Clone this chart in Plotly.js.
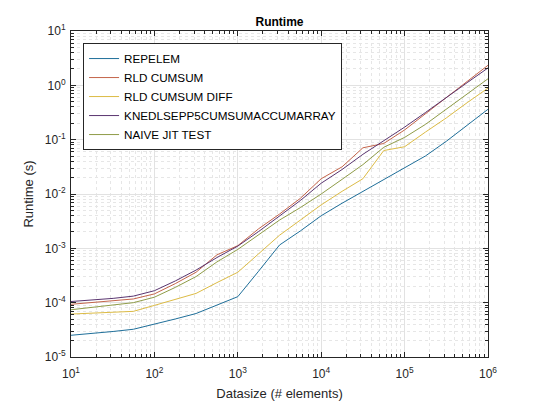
<!DOCTYPE html>
<html>
<head>
<meta charset="utf-8">
<script src="https://cdn.plot.ly/plotly-3.0.1.min.js"></script>
<style>
  body { margin: 0; background: #fff; }
  #myDiv { width: 540px; height: 405px; }
</style>
</head>
<body>
<div id="myDiv"></div>
<script>
// datasize, quarter-decade steps from 10 to 1e6
var datasize = [10, 18, 32, 56, 100, 178, 316, 562, 1000, 1778, 3162, 5623,
  10000, 17783, 31623, 56234, 100000, 177828, 316228, 562341, 1000000];

// runtimes (s)
var repelem = [2.51e-5, 2.69e-5, 2.95e-5, 3.24e-5, 3.98e-5, 5.01e-5, 6.31e-5, 8.91e-5,
  1.29e-4, 3.80e-4, 1.15e-3, 2.09e-3, 3.98e-3, 6.76e-3, 1.12e-2, 1.86e-2,
  3.02e-2, 5.01e-2, 9.33e-2, 0.186, 0.363];

var rldCumsum = [9.33e-5, 1.00e-4, 1.07e-4, 1.17e-4, 1.45e-4, 2.24e-4, 3.63e-4, 7.59e-4,
  1.12e-3, 2.29e-3, 4.27e-3, 8.32e-3, 1.91e-2, 3.16e-2, 7.08e-2, 8.51e-2,
  0.151, 0.302, 0.603, 1.20, 2.34];

var rldCumsumDiff = [6.17e-5, 6.46e-5, 6.76e-5, 6.92e-5, 8.91e-5, 1.15e-4, 1.48e-4, 2.34e-4,
  3.63e-4, 7.94e-4, 1.74e-3, 3.31e-3, 6.31e-3, 1.12e-2, 1.91e-2, 6.31e-2,
  7.41e-2, 0.138, 0.251, 0.479, 0.891];

var knedlsepp = [1.05e-4, 1.12e-4, 1.20e-4, 1.32e-4, 1.66e-4, 2.51e-4, 3.98e-4, 6.76e-4,
  1.10e-3, 2.04e-3, 3.89e-3, 7.59e-3, 1.58e-2, 2.82e-2, 5.37e-2, 9.55e-2,
  0.170, 0.316, 0.603, 1.12, 2.09];

var naiveJit = [7.41e-5, 8.13e-5, 8.91e-5, 1.00e-4, 1.26e-4, 1.91e-4, 3.02e-4, 5.62e-4,
  9.55e-4, 1.78e-3, 3.31e-3, 5.62e-3, 1.00e-2, 1.86e-2, 3.47e-2, 7.24e-2,
  0.110, 0.191, 0.363, 0.692, 1.32];

var names = ['REPELEM', 'RLD CUMSUM', 'RLD CUMSUM DIFF', 'KNEDLSEPP5CUMSUMACCUMARRAY', 'NAIVE JIT TEST'];
var series = [repelem, rldCumsum, rldCumsumDiff, knedlsepp, naiveJit];
var colors = ['#1f6f9a', '#c4644a', '#dcbb45', '#5a3570', '#8f9c48'];

var xTickVals = [10, 100, 1000, 10000, 100000, 1000000];
var xTickText = ['10<sup>1</sup>', '10<sup>2</sup>', '10<sup>3</sup>', '10<sup>4</sup>', '10<sup>5</sup>', '10<sup>6</sup>'];
var yTickVals = [1e-5, 1e-4, 1e-3, 1e-2, 1e-1, 1, 10];
var yTickText = ['10<sup>-5</sup>', '10<sup>-4</sup>', '10<sup>-3</sup>', '10<sup>-2</sup>', '10<sup>-1</sup>', '10<sup>0</sup>', '10<sup>1</sup>'];

var data = [];
for (var i = 0; i < series.length; i++) {
  data.push({
    x: datasize,
    y: series[i],
    mode: 'lines',
    name: names[i],
    line: { color: colors[i], width: 1 }
  });
}

var axisBase = {
  type: 'log',
  showline: true,
  linecolor: '#262626',
  linewidth: 1,
  mirror: 'ticks',
  ticks: 'inside',
  ticklen: 5,
  tickcolor: '#262626',
  tickmode: 'array',
  showgrid: true,
  gridcolor: '#e2e2e2',
  zeroline: false,
  tickfont: { family: 'Liberation Sans, Arial, sans-serif', size: 12, color: '#262626' },
  minor: {
    dtick: 'D1',
    ticks: 'inside',
    ticklen: 3,
    tickcolor: '#262626',
    showgrid: true,
    gridcolor: '#e6e6e6',
    griddash: 'dot'
  }
};

var layout = {
  width: 540,
  height: 405,
  margin: { l: 71, r: 52, t: 31, b: 48 },
  paper_bgcolor: '#ffffff',
  plot_bgcolor: '#ffffff',
  font: { family: 'Liberation Sans, Arial, sans-serif', color: '#262626' },
  title: {
    text: '<b>Runtime</b>',
    font: { size: 12, color: '#000' },
    x: 0.5, xref: 'paper',
    y: 1, yref: 'paper', yanchor: 'bottom',
    pad: { b: 5 }
  },
  xaxis: Object.assign({}, axisBase, {
    range: [1, 6],
    tickvals: xTickVals,
    ticktext: xTickText,
    ticklabelstandoff: 6,
    title: { text: 'Datasize (# elements)', font: { size: 13, color: '#262626' }, standoff: 8 }
  }),
  yaxis: Object.assign({}, axisBase, {
    range: [-5, 1],
    tickvals: yTickVals,
    ticktext: yTickText,
    ticklabelstandoff: 2,
    title: { text: 'Runtime (s)', font: { size: 13, color: '#262626' }, standoff: 8 }
  }),
  showlegend: true,
  legend: {
    x: 0.029, y: 0.963,
    xanchor: 'left', yanchor: 'top',
    bgcolor: '#ffffff',
    bordercolor: '#262626',
    borderwidth: 1,
    font: { size: 11.7, color: '#000' },
    tracegroupgap: 0
  }
};

Plotly.newPlot('myDiv', data, layout, { displayModeBar: false, staticPlot: true });
</script>
</body>
</html>
